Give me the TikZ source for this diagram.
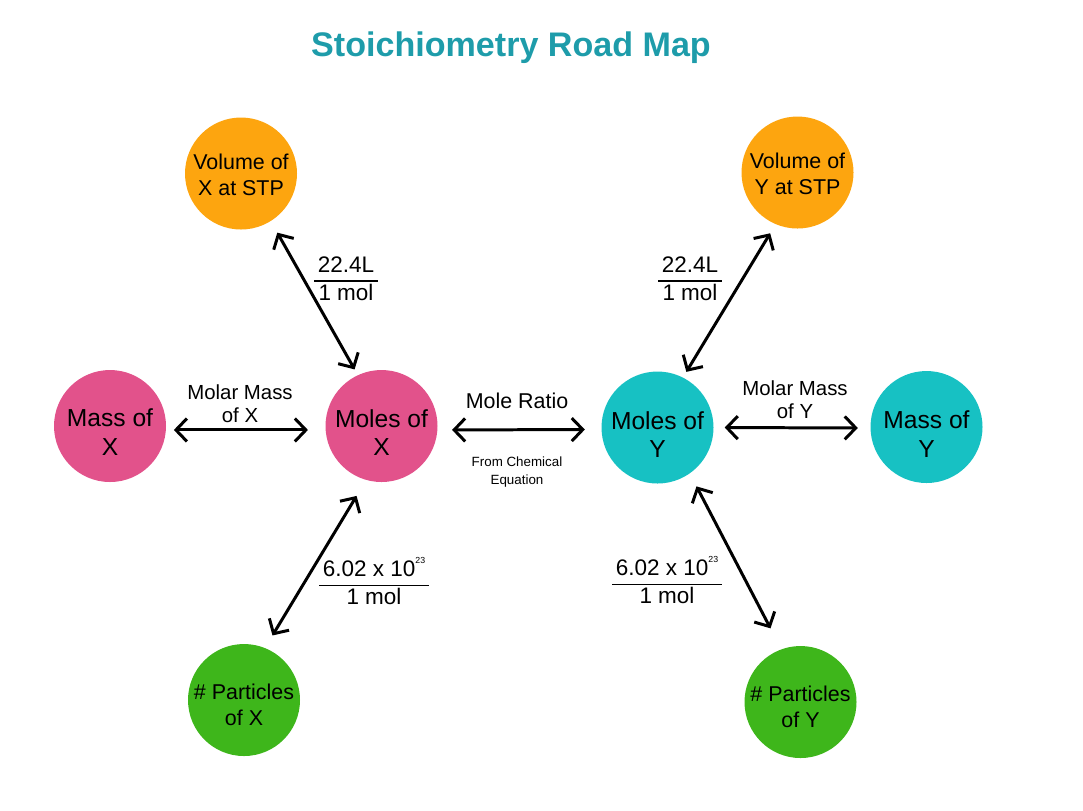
\documentclass[tikz,border=0pt]{standalone}
\usepackage{fontspec}
\setmainfont{Liberation Sans}
\usetikzlibrary{arrows.meta}
\definecolor{headteal}{HTML}{1E9CAA}
\definecolor{molepink}{HTML}{E2528B}
\definecolor{moleteal}{HTML}{17C1C3}
\definecolor{voloran}{HTML}{FDA50F}
\definecolor{partgreen}{HTML}{3EB61B}
\newcommand{\balltxt}[2]{\raisebox{#1}[0pt][0pt]{\begin{tabular}{@{}c@{}}#2\end{tabular}}}
\newcommand{\ratiofrac}[2]{\begin{tabular}{@{\hspace{1pt}}c@{\hspace{1pt}}}#1\\\hline #2\end{tabular}}
\newcommand{\avog}{6.02 x 10\raisebox{1.1ex}{\fontsize{2.5}{3}\selectfont 23}}
\tikzset{
  ball/.style={circle, minimum size=1.12cm, inner sep=0pt},
  bigball/.style={ball, font=\fontsize{7}{8}\selectfont},
  smallball/.style={ball, font=\fontsize{6.1}{7.4}\selectfont},
  link/.style={{Straight Barb[length=1.1mm,width=2.3mm]}-{Straight Barb[length=1.1mm,width=2.3mm]}, line width=0.85pt},
  convtxt/.style={align=center, font=\fontsize{5.8}{6.6}\selectfont},
  fractxt/.style={inner sep=0pt, font=\fontsize{6.4}{7.6}\selectfont}
}
\begin{document}
\begin{tikzpicture}
\useasboundingbox (0,0) rectangle (10.83,-8.10);

%%%%------------Tittel----------------%%
\node [font=\fontsize{9.7}{11}\selectfont\bfseries, text=headteal] (title) at (5.11,-0.48) {Stoichiometry Road Map};

%%%%------------Sirkler----------------%%
\node [smallball, fill=voloran]   (volx)  at (2.41,-1.735) {\balltxt{-2.5pt}{Volume of\\X at STP}};
\node [smallball, fill=voloran]   (voly)  at (7.975,-1.725) {\balltxt{-2.6pt}{Volume of\\Y at STP}};
\node [bigball, fill=molepink]    (massx) at (1.10,-4.26) {\balltxt{-4.4pt}{Mass of\\X}};
\node [bigball, fill=molepink]    (molx)  at (3.815,-4.26) {\balltxt{-4.6pt}{Moles of\\X}};
\node [bigball, fill=moleteal]    (moly)  at (6.575,-4.275) {\balltxt{-4.6pt}{Moles of\\Y}};
\node [bigball, fill=moleteal]    (massy) at (9.265,-4.27) {\balltxt{-4.7pt}{Mass of\\Y}};
\node [smallball, fill=partgreen] (partx) at (2.44,-7.00) {\balltxt{-3.7pt}{\# Particles\\of X}};
\node [smallball, fill=partgreen] (party) at (8.005,-7.02) {\balltxt{-3.5pt}{\# Particles\\of Y}};

%%%%------------Piler----------------%%
\draw [link, shorten <=0.127cm, shorten >=0.06cm] (volx.-58.4) -- (molx.115.3);
\draw [link, shorten <=0.10cm, shorten >=0.06cm] (voly.-113) -- (moly.63.8);
\draw [link, shorten <=0.073cm, shorten >=0.17cm] (massx.-4.1) -- (molx.184.1);
\draw [link, shorten <=0.14cm, shorten >=0.16cm] (molx.-4.1) -- (moly.182.6);
\draw [link, shorten <=0.105cm, shorten >=0.12cm] (moly.-0.8) -- (massy.181.3);
\draw [link, shorten <=0.18cm, shorten >=0.14cm] (molx.-106.8) -- (partx.68.2);
\draw [link, shorten <=0.14cm, shorten >=0.23cm] (moly.-55.5) -- (party.110.4);

%%%%------------Tekst----------------%%
\node [convtxt] (mmx)   at (2.40,-4.04) {Molar Mass\\of X};
\node [convtxt] (mmy)   at (7.95,-4.00) {Molar Mass\\of Y};
\node [font=\fontsize{6.1}{7}\selectfont] (ratio) at (5.17,-4.01) {Mole Ratio};
\node [align=center, font=\fontsize{3.8}{4.9}\selectfont] (chem) at (5.17,-4.72) {From Chemical\\Equation};

\node [fractxt] (fvx) at (3.46,-2.81) {\ratiofrac{22.4L}{1 mol}};
\node [fractxt] (fvy) at (6.90,-2.81) {\ratiofrac{22.4L}{1 mol}};
\node [fractxt] (fpx) at (3.74,-5.85) {\ratiofrac{\avog}{1 mol}};
\node [fractxt] (fpy) at (6.67,-5.84) {\ratiofrac{\avog}{1 mol}};

%    \draw [help lines] (0,-8.1) grid (10.83,0);
\end{tikzpicture}
\end{document}
